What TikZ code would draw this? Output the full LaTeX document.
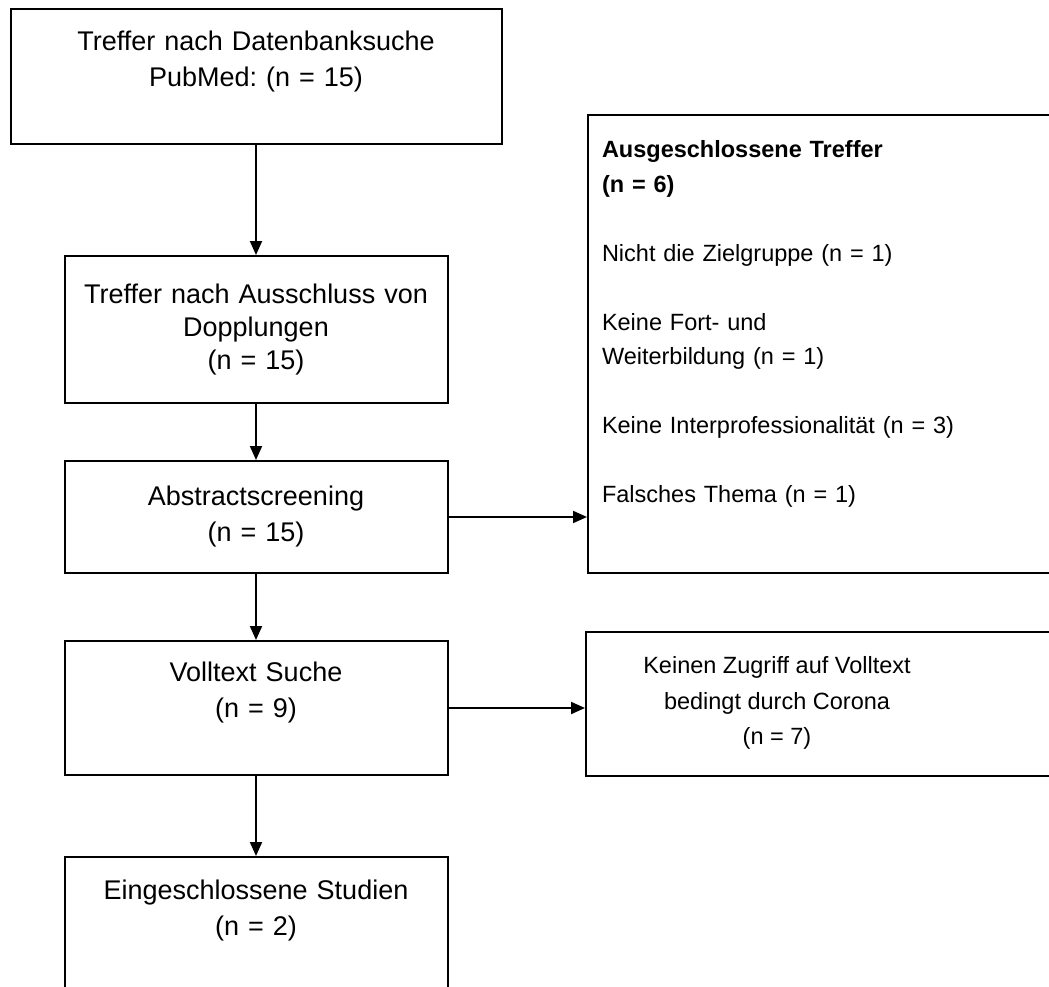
\documentclass[tikz,border=0pt]{standalone}
\usepackage{fontspec}
\setmainfont{Liberation Sans}
\usetikzlibrary{arrows.meta}
\frenchspacing

\begin{document}
\begin{tikzpicture}
    \tikzstyle{block} = [rectangle,draw=black,line width=2pt,inner sep=14pt,
    align=center,font=\fontsize{27}{36}\selectfont];
    \tikzstyle{sidebox} = [block,font=\fontsize{23.5}{34.5}\selectfont];
    \tikzstyle{flow} = [line width=2pt,-{Triangle[length=14pt,width=12pt]}];

    \clip (0,0) rectangle (1049pt,-987pt);

    % main column
    \node[block,name=suche,minimum width=491pt,minimum height=135pt,
    text width=463pt] at (256pt,-76.5pt)
    {Treffer nach Datenbanksuche\\PubMed: (n = 15)\\\mbox{}};
    \node[block,name=dopplungen,below of=suche,node distance=253pt,
    minimum width=383pt,minimum height=147pt,text width=355pt]
    {Treffer nach Ausschluss von\\[-3pt]Dopplungen\\[-3pt](n = 15)};
    \node[block,name=screening,below of=dopplungen,node distance=187.5pt,
    minimum width=383pt,minimum height=112pt,text width=355pt]
    {Abstractscreening\\(n = 15)};
    \node[block,name=volltext,below of=screening,node distance=191pt,
    minimum width=383pt,minimum height=134pt,text width=355pt]
    {Volltext Suche\\(n = 9)\\\mbox{}};
    \node[block,name=studien,below of=volltext,node distance=218pt,
    minimum width=383pt,minimum height=138pt,text width=355pt]
    {Eingeschlossene Studien\\(n = 2)\\\mbox{}};

    % side boxes
    \node[sidebox,name=ausschluss,right of=screening,node distance=573pt,
    yshift=173pt,minimum width=482pt,minimum height=458pt,text width=454pt,
    align=left]
    {\textbf{Ausgeschlossene Treffer}\\\textbf{(n = 6)}\\[34.5pt]%
    Nicht die Zielgruppe (n = 1)\\[34.5pt]%
    Keine Fort- und\\Weiterbildung (n = 1)\\[34.5pt]%
    Keine Interprofessionalität (n = 3)\\[34.5pt]%
    Falsches Thema (n = 1)\\[10pt]\mbox{}};
    \node[sidebox,name=corona,right of=volltext,node distance=572pt,
    yshift=4pt,minimum width=484pt,minimum height=144pt] {};
    \node[name=coronatext,inner sep=0pt,align=center,
    font=\fontsize{23.5}{35.5}\selectfont] at (corona) [xshift=-51pt,yshift=0.7pt]
    {Keinen Zugriff auf Volltext\\bedingt durch Corona\\(n = 7)};

    \draw[flow] (suche.south) -- (dopplungen.north);
    \draw[flow] (dopplungen.south) -- (screening.north);
    \draw[flow] (screening.south) -- (volltext.north);
    \draw[flow] (volltext.south) -- (studien.north);
    \draw[flow] (screening.east) -- (screening.east -| ausschluss.west);
    \draw[flow] (volltext.east) -- (volltext.east -| corona.west);

\end{tikzpicture}
\end{document}
